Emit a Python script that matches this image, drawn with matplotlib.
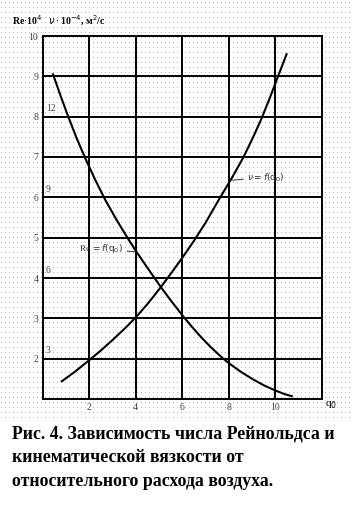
import numpy as np
import matplotlib
matplotlib.use("Agg")
from matplotlib import pyplot as plt

# curve Re = f(q0)
re_q = [0.45, 0.8, 1.1, 1.45, 1.85, 2.25, 2.7, 3.2, 3.7, 4.0, 4.4, 4.7, 5.05, 5.5, 6.04,
        6.4, 6.8, 7.2, 7.7, 8.0, 8.5, 9.0, 9.5, 10.0, 10.4, 10.7]
re_val = [9.05, 8.48, 8.01, 7.49, 6.95, 6.45, 5.93, 5.42, 4.95, 4.68, 4.34, 4.09, 3.8, 3.45, 3.05,
          2.8, 2.54, 2.3, 2.03, 1.89, 1.68, 1.5, 1.34, 1.21, 1.12, 1.07]

# curve nu = f(q0)
nu_q = [0.83, 1.4, 2.0, 2.5, 3.0, 3.5, 4.0, 4.5, 5.05, 5.5, 6.0, 6.5, 7.0, 7.63,
        8.15, 8.65, 9.05, 9.4, 9.75, 10.1, 10.48]
nu_val = [1.44, 1.68, 1.96, 2.2, 2.46, 2.73, 3.02, 3.35, 3.75, 4.1, 4.5, 4.92, 5.37, 6.0,
          6.5, 7.02, 7.5, 7.95, 8.45, 8.98, 9.55]

x_ticks = [2, 4, 6, 8, 10]
re_ticks = [2, 3, 4, 5, 6, 7, 8, 9, 10]
nu_ticks = [3, 6, 9, 12]   # nu scale: placed at Re = 2, 4, 6, 8

caption = ("Рис. 4. Зависимость числа Рейнольдса и\n"
           "кинематической вязкости от\n"
           "относительного расхода воздуха.")

W, H = 353, 513
fig = plt.figure(figsize=(W / 100, H / 100), dpi=100)

# dotted paper background
bg = np.ones((H, W, 3))
yy, xx = np.mgrid[0:H, 0:W]
dots = (yy % 5 == 2) & (xx % 4 == 1) & (yy < 418)
bg[dots] = 0.72
fig.figimage(bg, 0, 0, zorder=0)

ax = fig.add_axes([42.5 / W, (H - 399) / H, (322 - 42.5) / W, (399 - 36) / H])
ax.set_zorder(2)
ax.set_facecolor("none")
ax.set_xlim(0, 12)
ax.set_ylim(1, 10)

for x in x_ticks:
    ax.axvline(x, color="black", lw=1.4)
for y in re_ticks:
    ax.axhline(y, color="black", lw=1.4)
for s in ax.spines.values():
    s.set_linewidth(1.4)

ax.plot(re_q, re_val, color="black", lw=1.5, solid_joinstyle="round")
ax.plot(nu_q, nu_val, color="black", lw=1.5, solid_joinstyle="round")

serif = "Liberation Serif"
ax.set_xticks(x_ticks)
ax.set_yticks(re_ticks)
ax.tick_params(length=0, labelsize=7, labelcolor="#444444", pad=3)
for lab in ax.get_xticklabels() + ax.get_yticklabels():
    lab.set_family(serif)

for i, v in enumerate(nu_ticks):
    ax.text(0.15, re_ticks[0] + 2 * i + 0.08, str(v), fontsize=7, family=serif,
            color="#444444", va="bottom", ha="left")

ax.text(12.12, 0.98, r"q$_0$", fontsize=8, family=serif, ha="left", va="top")

ax.annotate(r"Re$\,=f(\mathrm{q}_0)$", xy=(4.0, 4.65), xytext=(3.45, 4.72),
            fontsize=6.5, family=serif, color="#333333", ha="right", va="center",
            arrowprops=dict(arrowstyle="-", lw=0.7, color="#333333",
                            shrinkA=1, shrinkB=0))
ax.annotate(r"$\nu=f(\mathrm{q}_0)$", xy=(8.05, 6.42), xytext=(8.8, 6.5),
            fontsize=6.5, family=serif, color="#333333", ha="left", va="center",
            arrowprops=dict(arrowstyle="-", lw=0.7, color="#333333",
                            shrinkA=1, shrinkB=0))

fig.text(12 / W, 1 - 25 / H, r"Re$\cdot$10$^4$", fontsize=7, family=serif,
         fontweight="bold", va="baseline")
fig.text(48 / W, 1 - 25 / H, r"$\nu\cdot$10$^{-4}$, м$^2$/с", fontsize=7, family=serif,
         fontweight="bold", va="baseline")

fig.text(12 / W, 1 - 425 / H, caption, fontsize=12.8, family=serif, fontweight="bold",
         va="top", ha="left", linespacing=1.55)

fig.savefig("out.png", dpi=100)
